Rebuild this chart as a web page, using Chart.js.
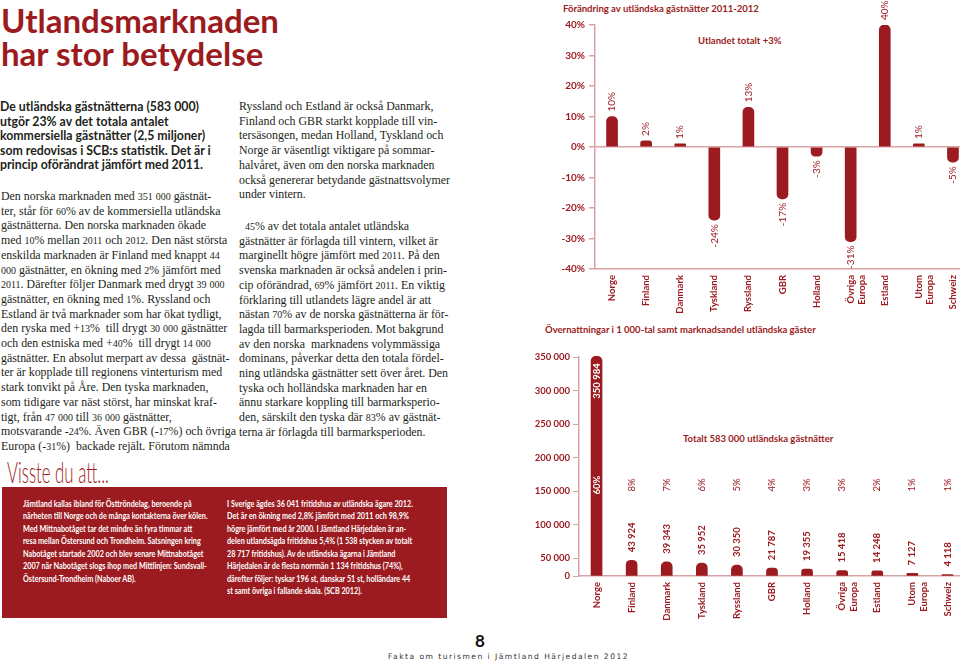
<!DOCTYPE html>
<html lang="sv">
<head>
<meta charset="utf-8">
<script src="https://cdn.jsdelivr.net/npm/chart.js@4.4.0/dist/chart.umd.min.js"></script>
<style>
  html, body {
    margin: 0;
    padding: 0;
    background: #fff;
  }
  body {
    position: relative;
    width: 960px;
    height: 664px;
    overflow: hidden;
    color: #231f20;
  }
  .abs {
    position: absolute;
    white-space: nowrap;
  }
  .red { color: #9b1b20; }
  .title {
    left: 1px;
    top: 4px;
    font: bold 33px/33px Lato, sans-serif;
  }
  .lead {
    left: 0;
    top: 100px;
    font: bold 12.3px/14.5px Lato, sans-serif;
  }
  .body-text {
    font: 11.9px/14.7px "Liberation Serif", serif;
  }
  /* Narrow digits, like the old-style figures of the original serif */
  .body-text .num {
    font-size: 84%;
    line-height: 0;
  }
  .visste {
    left: 7px;
    top: 455px;
    font: 300 30px/32px Lato, sans-serif;
    transform: scaleX(0.56);
    transform-origin: left top;
  }
  .box {
    position: absolute;
    left: 2px;
    top: 487px;
    width: 445px;
    height: 131px;
    background: #9b1b20;
  }
  .box-text {
    top: 497px;
    color: #fff;
    font: bold 10.2px/12.45px Lato, sans-serif;
    transform: scaleX(0.71);
    transform-origin: left top;
  }
  .chart-label {
    font: bold 9.5px Lato, sans-serif;
    color: #9b1b20;
  }
  canvas {
    position: absolute;
  }
</style>
</head>
<body>
<div class="abs title red">Utlandsmarknaden<br>har stor betydelse</div>
<div class="abs lead">De utländska gästnätterna (583 000)<br>utgör 23% av det totala antalet<br>kommersiella gästnätter (2,5 miljoner)<br>som redovisas i SCB:s statistik. Det är i<br>princip oförändrat jämfört med 2011.</div>
<div class="abs body-text" style="left:1px; top:189px;">Den norska marknaden med 351 000 gästnät-<br>ter, står för 60% av de kommersiella utländska<br>gästnätterna. Den norska marknaden ökade<br>med 10% mellan 2011 och 2012. Den näst största<br>enskilda marknaden är Finland med knappt 44<br>000 gästnätter, en ökning med 2% jämfört med<br>2011. Därefter följer Danmark med drygt 39 000<br>gästnätter, en ökning med 1%. Ryssland och<br>Estland är två marknader som har ökat tydligt,<br>den ryska med +13%&nbsp; till drygt 30 000 gästnätter<br>och den estniska med +40%&nbsp; till drygt 14 000<br>gästnätter. En absolut merpart av dessa&nbsp; gästnät-<br>ter är kopplade till regionens vinterturism med<br>stark tonvikt på Åre. Den tyska marknaden,<br>som tidigare var näst störst, har minskat kraf-<br>tigt, från 47 000 till 36 000 gästnätter,<br>motsvarande -24%. Även GBR (-17%) och övriga<br>Europa (-31%)&nbsp; backade rejält. Förutom nämnda</div>
<div class="abs body-text" style="left:239px; top:99px;">Ryssland och Estland är också Danmark,<br>Finland och GBR starkt kopplade till vin-<br>tersäsongen, medan Holland, Tyskland och<br>Norge är väsentligt viktigare på sommar-<br>halvåret, även om den norska marknaden<br>också genererar betydande gästnattsvolymer<br>under vintern.</div>
<div class="abs body-text" style="left:239px; top:219px;">&nbsp; 45% av det totala antalet utländska<br>gästnätter är förlagda till vintern, vilket är<br>marginellt högre jämfört med 2011. På den<br>svenska marknaden är också andelen i prin-<br>cip oförändrad, 69% jämfört 2011. En viktig<br>förklaring till utlandets lägre andel är att<br>nästan 70% av de norska gästnätterna är för-<br>lagda till barmarksperioden. Mot bakgrund<br>av den norska&nbsp; marknadens volymmässiga<br>dominans, påverkar detta den totala fördel-<br>ning utländska gästnätter sett över året. Den<br>tyska och holländska marknaden har en<br>ännu starkare koppling till barmarksperio-<br>den, särskilt den tyska där 83% av gästnät-<br>terna är förlagda till barmarksperioden.</div>
<div class="abs visste red">Visste du att...</div>
<div class="box"></div>
<div class="abs box-text" style="left:23px;">Jämtland kallas ibland för Östtröndelag, beroende på<br>närheten till Norge och de många kontakterna över kölen.<br>Med Mittnabotåget tar det mindre än fyra timmar att<br>resa mellan Östersund och Trondheim. Satsningen kring<br>Nabotåget startade 2002 och blev senare Mittnabotåget<br>2007 när Nabotåget slogs ihop med Mittlinjen: Sundsvall-<br>Östersund-Trondheim (Naboer AB).</div>
<div class="abs box-text" style="left:227px;">I Sverige ägdes 36 041 fritidshus av utländska ägare 2012.<br>Det är en ökning med 2,8% jämfört med 2011 och 98,9%<br>högre jämfört med år 2000. I Jämtland Härjedalen är an-<br>delen utlandsägda fritidshus 5,4% (1 538 stycken av totalt<br>28 717 fritidshus). Av de utländska ägarna i Jämtland<br>Härjedalen är de flesta norrmän 1 134 fritidshus (74%),<br>därefter följer: tyskar 196 st, danskar 51 st, holländare 44<br>st samt övriga i fallande skala. (SCB 2012).</div>
<div class="abs" style="left:475px; top:630px; font:bold 17px Lato, sans-serif; color:#111;">8</div>
<div class="abs" style="left:388px; top:652px; font:7.6px 'DejaVu Sans', sans-serif; letter-spacing:1.45px; color:#333;">Fakta om turismen i Jämtland Härjedalen 2012</div>

<div class="abs chart-label" style="left:563px; top:3px;">Förändring av utländska gästnätter 2011-2012</div>
<div class="abs chart-label" style="left:698px; top:35px;">Utlandet totalt +3%</div>
<div class="abs chart-label" style="left:545px; top:324px;">Övernattningar i 1 000-tal samt marknadsandel utländska gäster</div>
<div class="abs chart-label" style="left:683px; top:433px;">Totalt 583 000 utländska gästnätter</div>

<canvas id="change-chart" width="425" height="320" style="left:555px; top:0;"></canvas>
<canvas id="nights-chart" width="445" height="324" style="left:530px; top:340px;"></canvas>

<script>
const categories = ['Norge', 'Finland', 'Danmark', 'Tyskland', 'Ryssland', 'GBR', 'Holland', ['Övriga', 'Europa'], 'Estland', ['Utom', 'Europa'], 'Schweiz'];
// Förändring 2011-2012 i procent
const changePercent = [10, 2, 1, -24, 13, -17, -3, -31, 40, 1, -5];
const changeTickValues = [-40, -30, -20, -10, 0, 10, 20, 30, 40];
// Gästnätter 2012 och marknadsandel i procent
const guestNights = [350984, 43924, 39343, 35952, 30350, 21787, 19355, 15418, 14248, 7127, 4118];
const marketShare = [60, 8, 7, 6, 5, 4, 3, 3, 2, 1, 1];
const nightsTickValues = [0, 50000, 100000, 150000, 200000, 250000, 300000, 350000];

const red = '#9b1b20';
const pink = '#d9a3a6';
const chartFont = 'Lato, sans-serif';

// The nights axis is broken: 0-50 000 is squeezed at the bottom
const axisBreakValue = 50000;
const axisBreakFraction = 0.082;

// Old-style figures are narrow, so shrink the digits of the serif text a bit
for (const block of document.querySelectorAll('.body-text')) {
  block.innerHTML = block.innerHTML.replace(/\d+/g, '<span class="num">$&</span>');
}

function formatThousands(value) {
  return String(value).replace(/\B(?=(\d{3})+(?!\d))/g, ' ');
}

class BrokenLinearScale extends Chart.LinearScale {
  static id = 'brokenLinear';
  static defaults = Chart.LinearScale.defaults;

  valueToDecimal(value) {
    if (value <= axisBreakValue) {
      return value / axisBreakValue * axisBreakFraction;
    }
    return axisBreakFraction + (value - axisBreakValue) / (this.max - axisBreakValue) * (1 - axisBreakFraction);
  }

  getPixelForValue(value) {
    if (value === null || isNaN(value)) {
      return NaN;
    }
    return this.getPixelForDecimal(this.valueToDecimal(value));
  }

  getValueForPixel(pixel) {
    const decimal = this.getDecimalForPixel(pixel);
    if (decimal <= axisBreakFraction) {
      return decimal / axisBreakFraction * axisBreakValue;
    }
    return axisBreakValue + (decimal - axisBreakFraction) / (1 - axisBreakFraction) * (this.max - axisBreakValue);
  }
}
Chart.register(BrokenLinearScale);

function drawRotatedText(ctx, text, x, y, align, color) {
  ctx.save();
  ctx.translate(x, y);
  ctx.rotate(-Math.PI / 2);
  ctx.textAlign = align;
  ctx.textBaseline = 'middle';
  ctx.fillStyle = color;
  ctx.fillText(text, 0, 0);
  ctx.restore();
}

const changeLabelsPlugin = {
  id: 'changeLabels',
  afterDatasetsDraw(chart) {
    const ctx = chart.ctx;
    ctx.font = `10px ${chartFont}`;
    chart.getDatasetMeta(0).data.forEach((bar, i) => {
      const value = changePercent[i];
      if (value >= 0) {
        drawRotatedText(ctx, `${value}%`, bar.x, bar.y - 5, 'left', red);
      } else {
        drawRotatedText(ctx, `${value}%`, bar.x, bar.y + 4, 'right', red);
      }
    });
  },
};

const nightsLabelsPlugin = {
  id: 'nightsLabels',
  afterDatasetsDraw(chart) {
    const ctx = chart.ctx;
    const shareY = chart.chartArea.bottom - 91;
    chart.getDatasetMeta(0).data.forEach((bar, i) => {
      const inside = bar.base - bar.y > 100;
      ctx.font = `bold 9.5px ${chartFont}`;
      const text = formatThousands(guestNights[i]);
      if (inside) {
        drawRotatedText(ctx, text, bar.x, bar.y + 7, 'right', '#fff');
      } else {
        drawRotatedText(ctx, text, bar.x, bar.y - 8, 'left', red);
      }
      ctx.font = `${inside ? 'bold ' : ''}9.5px ${chartFont}`;
      drawRotatedText(ctx, `${marketShare[i]}%`, bar.x, shareY, 'center', inside ? '#fff' : red);
    });
  },
};

const categoryAxis = (height) => ({
  type: 'category',
  offset: true,
  grid: {display: false, drawTicks: false},
  border: {display: true, color: pink, width: 1.5},
  ticks: {
    autoSkip: false,
    minRotation: 90,
    maxRotation: 90,
    padding: 6,
    color: red,
    font: {family: chartFont, weight: 'bold', size: 9.5},
  },
  afterFit: (scale) => { scale.height = height; },
});

function initChangeChart() {
  new Chart(document.querySelector('#change-chart'), {
    type: 'bar',
    data: {
      labels: categories,
      datasets: [{
        data: changePercent,
        backgroundColor: red,
        barThickness: 11,
        borderRadius: 5,
        borderSkipped: 'start',
      }],
    },
    options: {
      responsive: false,
      animation: false,
      layout: {padding: {top: 25, right: 10, left: 0, bottom: 0}},
      plugins: {legend: {display: false}, tooltip: {enabled: false}},
      scales: {
        x: categoryAxis(51),
        y: {
          min: -40,
          max: 40,
          afterBuildTicks: (scale) => { scale.ticks = changeTickValues.map((value) => ({value})); },
          grid: {
            drawOnChartArea: true,
            color: (ctx) => (ctx.tick && ctx.tick.value === 0 ? pink : 'rgba(0,0,0,0)'),
            lineWidth: 1.5,
            tickLength: 6,
            tickColor: pink,
          },
          border: {display: true, color: pink, width: 1.5},
          ticks: {
            padding: 4,
            color: red,
            font: {family: chartFont, weight: 'bold', size: 10},
            callback: (value) => `${value}%`,
          },
          afterFit: (scale) => { scale.width = 40; },
        },
      },
    },
    plugins: [changeLabelsPlugin],
  });
}

function initNightsChart() {
  new Chart(document.querySelector('#nights-chart'), {
    type: 'bar',
    data: {
      labels: categories,
      datasets: [{
        data: guestNights,
        backgroundColor: red,
        barThickness: 11,
        borderRadius: 5,
        borderSkipped: 'start',
        clip: false,
      }],
    },
    options: {
      responsive: false,
      animation: false,
      layout: {padding: {top: 17, right: 10, left: 0, bottom: 0}},
      plugins: {legend: {display: false}, tooltip: {enabled: false}},
      scales: {
        x: categoryAxis(88),
        y: {
          type: 'brokenLinear',
          min: 0,
          max: 350000,
          afterBuildTicks: (scale) => { scale.ticks = nightsTickValues.map((value) => ({value})); },
          grid: {
            drawOnChartArea: false,
            tickLength: 6,
            tickColor: pink,
          },
          border: {display: true, color: pink, width: 1.5},
          ticks: {
            padding: 3,
            color: red,
            font: {family: chartFont, weight: 'bold', size: 9.5},
            callback: (value) => formatThousands(value),
          },
          afterFit: (scale) => { scale.width = 49; },
        },
      },
    },
    plugins: [nightsLabelsPlugin],
  });
}

initChangeChart();
initNightsChart();
</script>
</body>
</html>
